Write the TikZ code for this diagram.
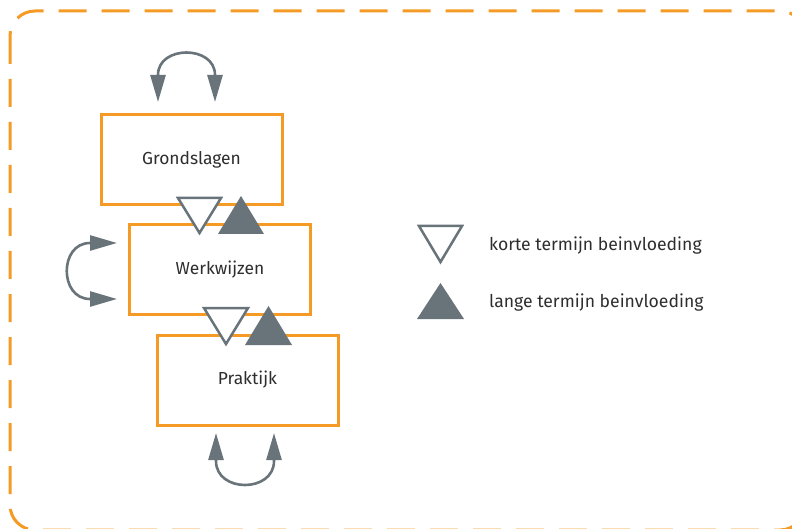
\documentclass[tikz,border=0pt]{standalone}
\usepackage{fontspec}
\setmainfont{Fira Sans}
\usetikzlibrary{arrows.meta}
\definecolor{frameorange}{HTML}{F59B25}
\definecolor{slategrey}{HTML}{69737A}
\definecolor{inktext}{HTML}{2E2E2E}
\tikzset{
  layerbox/.style={draw=frameorange, line width=3pt, fill=white, minimum width=181pt,
    minimum height=90pt, inner sep=0pt, font=\fontsize{17.4}{20}\selectfont, text=inktext},
  legendtext/.style={anchor=base west, inner sep=0pt, font=\fontsize{17.6}{20}\selectfont, text=inktext},
  loop/.style={draw=slategrey, line width=2.6pt, {Triangle[length=27pt,width=15pt]}-{Triangle[length=27pt,width=15pt]}},
  shortterm/.style={draw=slategrey, line width=2.5pt, fill=white, line join=miter},
  longterm/.style={fill=slategrey},
  outerframe/.style={draw=frameorange, line width=3pt, dash pattern=on 28pt off 15pt, rounded corners=25pt}
}
\begin{document}
\begin{tikzpicture}[x=1pt,y=-1pt]
\useasboundingbox (0,0) rectangle (792,529);

% dashed outer frame, running past the right and lower edges of the page
\begin{scope}
\clip (0,0) rectangle (792,529);
\draw[outerframe] (10,11) rectangle (805,530);
\end{scope}

% three layers
\node[layerbox] (G) at (191.5,160) {Grondslagen};
\node[layerbox] (W) at (220,269.5) {Werkwijzen};
\node[layerbox] (P) at (247.5,380) {Praktijk};

% self-influence loops
\coordinate (gtl) at (158,102); \coordinate (gbl) at (158,75);
\coordinate (gtr) at (215,102); \coordinate (gbr) at (215,75);
\draw[loop] (gtl) -- (gbl) .. controls (158,45) and (215,45) .. (gbr) -- (gtr);

\coordinate (wtt) at (117,243); \coordinate (wbt) at (90,243);
\coordinate (wtb) at (117,299); \coordinate (wbb) at (90,299);
\draw[loop] (wtt) -- (wbt) .. controls (59,243) and (59,299) .. (wbb) -- (wtb);

\coordinate (ptl) at (216,433); \coordinate (pbl) at (216,461);
\coordinate (ptr) at (274,433); \coordinate (pbr) at (274,461);
\draw[loop] (ptl) -- (pbl) .. controls (216,493) and (274,493) .. (pbr) -- (ptr);

% short-term (open) and long-term (filled) influence between layers
\draw[shortterm] (178,198) -- (221,198) -- (199.5,233) -- cycle;
\fill[longterm] (241,196) -- (264,234) -- (218,234) -- cycle;
\draw[shortterm] (204,308) -- (248,308) -- (226,344) -- cycle;
\fill[longterm] (268.5,306) -- (292,345) -- (245,345) -- cycle;

% legend
\draw[shortterm] (419,226) -- (462,226) -- (440.5,262) -- cycle;
\fill[longterm] (440.5,283) -- (464,319) -- (417,319) -- cycle;
\node[legendtext] (lk) at (489,250.7) {korte termijn beinvloeding};
\node[legendtext] (ll) at (489,307) {lange termijn beinvloeding};
\end{tikzpicture}
\end{document}
